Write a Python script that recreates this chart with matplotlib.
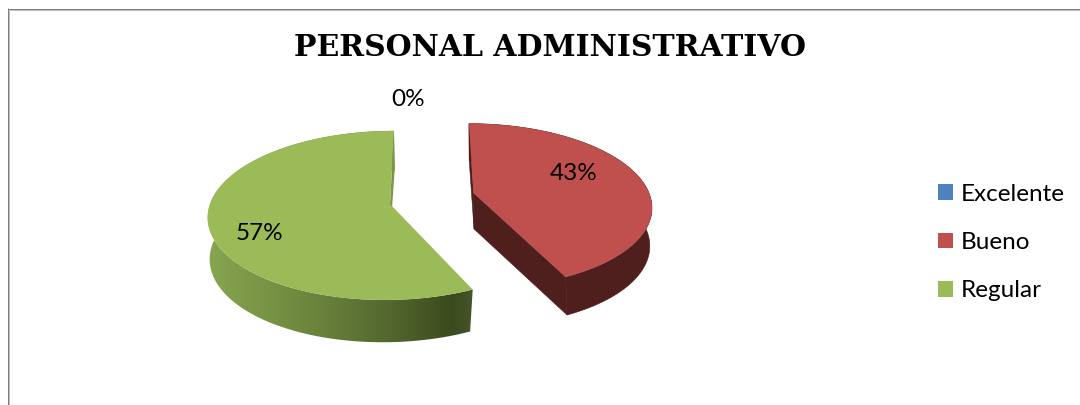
import numpy as np
import matplotlib
matplotlib.use("Agg")
import matplotlib.pyplot as plt
from matplotlib.patches import Polygon, Patch
from matplotlib.colors import LinearSegmentedColormap

TITLE = "PERSONAL ADMINISTRATIVO"
categories = ["Excelente", "Bueno", "Regular"]
shares = [0, 43, 57]
top_colors = ["#4f81bd", "#c0504d", "#9bbb59"]

W, H = 1080, 405
fig = plt.figure(figsize=(W / 100, H / 100), dpi=100, facecolor="white")
ax = fig.add_axes([0, 0, 1, 1])
ax.set_xlim(0, W)
ax.set_ylim(H, 0)
ax.axis("off")

LABEL_FONT = "Lato"


def rim(theta, cx, cy, rx, ry, k, shear):
    """Project clockwise-from-north angles of a tilted disc to axes pixels."""
    s, t = np.sin(theta), np.cos(theta)
    d = 1 + k * t
    up = ry * t / d
    return np.column_stack([cx + rx * s / d + shear * up, cy - up])


def apex(layer):
    return [(layer["cx"], layer["cy"])]


# Slice angles follow the shares, clockwise from north
edges = np.deg2rad(np.cumsum([0] + shares) * 360 / sum(shares))
spans = {c: (edges[i], edges[i + 1]) for i, c in enumerate(categories)}

bueno_top = dict(cx=473.5, cy=193, rx=175.5, ry=80, k=0.153, shear=-0.065)
bueno_low = dict(cx=474, cy=229, rx=172, ry=80, k=0.175, shear=-0.07)
regular_top = dict(cx=390, cy=204, rx=180, ry=83, k=0.135, shear=0.054)
regular_low = dict(cx=389.5, cy=244, rx=177, ry=84, k=0.145, shear=0.07)

# Bueno: dark outer wall and both cut faces behind its top face
a0, a1 = spans["Bueno"]
th = np.linspace(a0, a1, 200)
upper, lower = rim(th, **bueno_top), rim(th, **bueno_low)
dark = "#4f1f1d"
for outline in (np.vstack([upper, lower[::-1]]),
                np.vstack([upper[:1], apex(bueno_top), apex(bueno_low), lower[:1]]),
                np.vstack([upper[-1:], apex(bueno_top), apex(bueno_low), lower[-1:]])):
    ax.add_patch(Polygon(outline, closed=True, fc=dark, ec=dark, lw=0.4, zorder=2))
ax.add_patch(Polygon(np.vstack([apex(bueno_top), upper]),
                     closed=True, fc=top_colors[1], ec="none", zorder=3))

# Regular: shaded wall, lighter on the left and dark towards the cut
a0, a1 = spans["Regular"]
th = np.linspace(a0, a1, 300)
upper, lower = rim(th, **regular_top), rim(th, **regular_low)
wall_poly = Polygon(np.vstack([upper, lower[::-1]]), closed=True,
                    fc="none", ec="none", transform=ax.transData)
ax.add_patch(wall_poly)
shade = LinearSegmentedColormap.from_list(
    "wall", [(0, "#88a650"), (0.35, "#6f8a3f"), (0.65, "#566b30"),
             (0.92, "#3c4a1e"), (1, "#46552a")])
im = ax.imshow(np.linspace(0, 1, 300)[None, :], cmap=shade, aspect="auto",
               extent=(205, 475, 350, 120), zorder=2)
im.set_clip_path(wall_poly)
ax.set_xlim(0, W)
ax.set_ylim(H, 0)

# Thin visible strip of the cut face at the back of the slice
ax.add_patch(Polygon(np.vstack([upper[-1:], apex(regular_top), apex(regular_low), lower[-1:]]),
                     closed=True, fc="#7b9745", ec="none", zorder=2))
ax.add_patch(Polygon(np.vstack([apex(regular_top), upper]),
                     closed=True, fc=top_colors[2], ec="none", zorder=3))

# Percentage labels
label_xy = [(408, 99), (573.5, 173), (259, 233)]
for v, (x, y) in zip(shares, label_xy):
    ax.text(x, y, f"{v}%", ha="center", va="center", fontsize=17.5,
            family=LABEL_FONT, color="black", zorder=5)

# Title
ax.text(549.5, 47.5, TITLE, ha="center", va="center", fontsize=21.5,
        family="DejaVu Serif", fontweight="bold", color="black", zorder=5)

# Legend
handles = [Patch(fc=c, ec="none") for c in top_colors]
ax.legend(handles, categories, loc="center left",
          bbox_to_anchor=(938 / W, 1 - 242.5 / H), bbox_transform=fig.transFigure,
          frameon=False, prop={"family": LABEL_FONT, "size": 17.5},
          handlelength=0.62, handleheight=0.62, handletextpad=0.33,
          labelspacing=1.12, borderpad=0, borderaxespad=0)

# Chart frame, running past the right and bottom edges
for xs, ys, col in [((7.5, W), (8.5, 8.5), "#7f7f7f"),
                    ((8.5, W), (9.5, 9.5), "#bdbdbd"),
                    ((7.5, 7.5), (8, H), "#7f7f7f"),
                    ((8.5, 8.5), (9, H), "#bdbdbd")]:
    ax.plot(xs, ys, color=col, lw=0.72, solid_capstyle="butt", zorder=1)

fig.savefig("out.png", dpi=100, facecolor="white")
